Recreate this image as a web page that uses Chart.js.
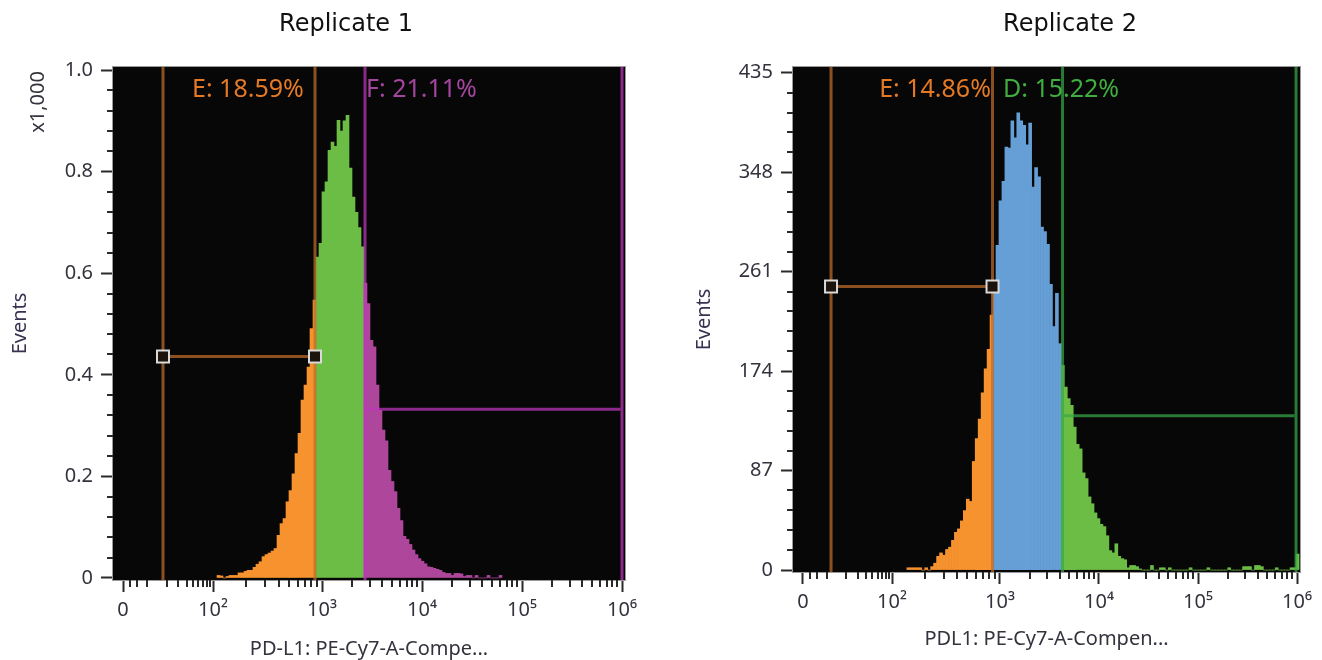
<!DOCTYPE html>
<html lang="en">
<head>
<meta charset="UTF-8">
<title>PD-L1 replicates</title>
<style>
  body { margin: 0; background: #fff; }
  .panel { position: absolute; top: 0; width: 661px; height: 660px; }
</style>
</head>
<body>
<div class="panel" style="left:0"><canvas id="rep1" width="661" height="660" style="width:661px;height:660px"></canvas></div>
<div class="panel" style="left:661px"><canvas id="rep2" width="661" height="660" style="width:661px;height:660px"></canvas></div>

<script src="https://cdn.jsdelivr.net/npm/chart.js@4.4.0/dist/chart.umd.min.js"></script>
<script>
// x axis is in display units of the biexponential scale (bins are uniform in it)
const binWidth = 0.03;
const xTickValues = [0, 100, 1000, 10000, 100000, 1000000];
const xTickLabels = ['0', '10²', '10³', '10⁴', '10⁵', '10⁶'];

// Replicate 1, events per bin, first bin starts at 1.04
const rep1Start = 1.04;
const rep1Counts = [5, 4, 0, 3, 5, 5, 5, 10, 10, 13,
  15, 15, 21, 27, 32, 42, 46, 49, 53, 58,
  84, 107, 117, 150, 172, 205, 245, 285, 350, 380,
  415, 491, 547, 632, 659, 760, 780, 842, 858, 850,
  901, 880, 900, 911, 807, 750, 720, 690, 652, 580,
  540, 468, 455, 380, 330, 291, 270, 212, 190, 170,
  137, 113, 82, 76, 66, 55, 46, 38, 33, 28,
  22, 21, 19, 17, 15, 11, 9, 9, 5, 9,
  9, 8, 3, 5, 5, 0, 5, 0, 0, 0,
  5, 0, 0, 0, 5];
const rep1YTicks = [0, 200, 400, 600, 800, 1000];
const rep1GateNames = ['E', 'F'];
const rep1GatePct = ['18.59%', '21.11%'];
const rep1GateFrom = [0.50, 2.52];
const rep1GateTo = [2.02, 5.09];
const rep1GateLevel = [436, 332];

// Replicate 2, first bin starts at 1.15
const rep2Start = 1.15;
const rep2Counts = [2, 2, 2, 2, 2, 0, 2, 0, 3, 6,
  12, 15, 13, 18, 20, 26, 33, 36, 43, 52,
  62, 60, 95, 115, 132, 155, 176, 193, 223, 250,
  284, 323, 340, 370, 369, 393, 378, 400, 393, 389,
  372, 391, 335, 352, 344, 300, 296, 285, 250, 213,
  242, 198, 179, 160, 150, 144, 125, 110, 106, 85,
  80, 64, 58, 50, 45, 40, 38, 30, 17, 15,
  23, 12, 10, 9, 2, 4, 4, 3, 1, 0,
  0, 0, 4, 0, 0, 2, 2, 0, 2, 0,
  0, 0, 0, 0, 0, 2, 0, 0, 0, 0,
  0, 2, 0, 0, 0, 0, 0, 0, 2, 0,
  0, 0, 0, 3, 3, 3, 0, 4, 4, 3,
  0, 0, 0, 0, 2, 0, 0, 0, 0, 2,
  2, 14];
const rep2YTicks = [0, 87, 174, 261, 348, 435];
const rep2GateNames = ['E', 'D'];
const rep2GatePct = ['14.86%', '15.22%'];
const rep2GateFrom = [0.384, 2.722];
const rep2GateTo = [2.015, 5.08];
const rep2GateLevel = [248, 135];

const gateStyle = {
  E: { fill: '#F7932F', line: 'rgba(190,108,42,0.73)', text: '#E47A26' },
  F: { fill: '#AE479C', line: 'rgba(190,55,190,0.72)', text: '#A4459E' },
  D: { fill: '#6CBD45', line: 'rgba(55,168,72,0.72)', text: '#3FAE3F' }
};

const tickFont = { family: '"Noto Sans", sans-serif', size: 20 };
const ink = '#33333d';

// biexponential-like display transform used by the cytometer axis
function pos(v) {
  if (v >= 1000) return Math.log10(v) - 0.91;
  if (v >= 100) return 1 + 1.09 * (Math.log10(v) - 2);
  if (v >= 10) return 0.34 + 0.66 * (Math.log10(v) - 1);
  return 0.1 + 0.024 * v;
}

const xMinor = [3, 6, 10];
[10, 100, 1000, 10000, 100000].forEach(d => {
  for (let m = 2; m <= 9; m++) xMinor.push(m * d);
});

function makeGates(names, pct, from, to, level) {
  return names.map((n, i) => ({ name: n, pct: pct[i], from: from[i], to: to[i], level: level[i] }));
}

function overlay(p) {
  return {
    id: 'overlay',
    beforeDraw(chart) {
      const { ctx, chartArea: a } = chart;
      ctx.save();
      ctx.fillStyle = '#070707';
      ctx.fillRect(a.left, a.top, a.right - a.left, a.bottom - a.top);
      ctx.restore();
    },
    afterDatasetsDraw(chart) {
      const { ctx, chartArea: a } = chart;
      const xs = chart.scales.x, ys = chart.scales.y;
      ctx.save();
      ctx.beginPath();
      ctx.rect(a.left, a.top, a.right - a.left, a.bottom - a.top);
      ctx.clip();
      p.gates.forEach((g, i) => {
        const st = gateStyle[g.name];
        const x1 = xs.getPixelForValue(g.from), x2 = xs.getPixelForValue(g.to);
        const y = ys.getPixelForValue(g.level);
        ctx.strokeStyle = st.line;
        ctx.lineWidth = 3;
        ctx.beginPath();
        ctx.moveTo(x1, a.top); ctx.lineTo(x1, a.bottom);
        ctx.moveTo(x2, a.top); ctx.lineTo(x2, a.bottom);
        ctx.stroke();
        ctx.beginPath();
        ctx.moveTo(x1 + 1.5, y); ctx.lineTo(x2 - 1.5, y);
        ctx.stroke();
        if (i === 0) {
          [x1, x2].forEach(x => {
            ctx.fillStyle = '#1c130c';
            ctx.fillRect(x - 6, y - 6, 12, 12);
            ctx.strokeStyle = '#d9d9d9';
            ctx.lineWidth = 2;
            ctx.strokeRect(x - 6, y - 6, 12, 12);
          });
        }
        ctx.fillStyle = st.text;
        ctx.font = '25px "Noto Sans", sans-serif';
        ctx.textAlign = 'left';
        ctx.textBaseline = 'alphabetic';
        ctx.fillText(g.name + ': ' + g.pct, xs.getPixelForValue(p.labelAt[i]), a.top + 30);
      });
      ctx.restore();
    },
    afterDraw(chart) {
      const { ctx, chartArea: a } = chart;
      const xs = chart.scales.x, ys = chart.scales.y;
      ctx.save();
      // frame
      ctx.strokeStyle = '#9a9a9a';
      ctx.lineWidth = 1;
      ctx.strokeRect(a.left - 0.5, a.top - 0.5, a.right - a.left + 1, a.bottom - a.top + 1);
      // minor ticks
      ctx.strokeStyle = '#2a2a2a';
      ctx.lineWidth = 2;
      ctx.beginPath();
      xMinor.forEach(v => {
        const px = Math.round(xs.getPixelForValue(pos(v)));
        ctx.moveTo(px, a.bottom); ctx.lineTo(px, a.bottom + 7);
      });
      for (let i = 1; i < 25; i++) {
        if (i % 5 === 0) continue;
        const v = i * p.yMinorStep;
        if (v > ys.max) break;
        const py = Math.round(ys.getPixelForValue(v));
        ctx.moveTo(a.left - 6, py); ctx.lineTo(a.left, py);
      }
      ctx.stroke();
      // texts
      ctx.fillStyle = '#111';
      ctx.font = '24px "DejaVu Sans", sans-serif';
      ctx.textAlign = 'center';
      ctx.textBaseline = 'alphabetic';
      ctx.fillText(p.title, p.titleX, 31);
      ctx.fillStyle = ink;
      ctx.font = '20px "Noto Sans", sans-serif';
      ctx.fillText(p.xTitle, (a.left + a.right) / 2, p.xTitleY);
      ctx.save();
      ctx.translate(a.left - p.yTitleOff, (a.top + a.bottom) / 2);
      ctx.rotate(-Math.PI / 2);
      ctx.fillStyle = '#3a3150';
      ctx.textBaseline = 'middle';
      ctx.fillText('Events', 0, 0);
      ctx.restore();
      if (p.unit) {
        ctx.save();
        ctx.translate(38, 102);
        ctx.rotate(-Math.PI / 2);
        ctx.textBaseline = 'middle';
        ctx.fillText(p.unit, 0, 0);
        ctx.restore();
      }
      ctx.restore();
    }
  };
}

function draw(id, p) {
  const points = p.counts.map((c, i) => ({ x: +(p.start + binWidth * (i + 0.5)).toFixed(4), y: c }));
  const colorFor = x => {
    const g = p.gates.find(g => x >= g.from && x <= g.to + binWidth / 2);
    return g ? gateStyle[g.name].fill : p.baseFill;
  };
  new Chart(document.getElementById(id), {
    type: 'bar',
    data: {
      datasets: [{
        data: points,
        backgroundColor: ctx => colorFor(ctx.raw ? ctx.raw.x : 0),
        borderWidth: 0,
        barPercentage: 1,
        categoryPercentage: 1,
        grouped: false
      }]
    },
    options: {
      responsive: false,
      animation: false,
      events: [],
      layout: { padding: { top: 67, left: 0, right: p.padRight, bottom: 0 } },
      plugins: { legend: { display: false }, tooltip: { enabled: false } },
      scales: {
        x: {
          type: 'linear',
          offset: false,
          min: 0,
          max: 5.12,
          afterBuildTicks: s => { s.ticks = xTickValues.map(v => ({ value: pos(v) })); },
          afterFit: s => { s.height = p.xHeight; s.paddingLeft = 0; s.paddingRight = 0; },
          ticks: {
            autoSkip: false, maxRotation: 0, padding: 6, color: ink, font: tickFont,
            callback: (v, i) => xTickLabels[i]
          },
          grid: { offset: false, drawOnChartArea: false, tickLength: 12, tickWidth: 2, tickColor: '#2a2a2a' },
          border: { display: false }
        },
        y: {
          type: 'linear',
          min: p.yMin,
          max: p.yMax,
          afterBuildTicks: s => { s.ticks = p.yTicks.map(v => ({ value: v })); },
          afterFit: s => { s.width = p.yWidth; s.paddingTop = 0; s.paddingBottom = 0; },
          ticks: { padding: 8, color: ink, font: tickFont, callback: p.yLabel },
          grid: { drawOnChartArea: false, tickLength: 12, tickWidth: 2, tickColor: '#2a2a2a' },
          border: { display: false }
        }
      }
    },
    plugins: [overlay(p)]
  });
}

draw('rep1', {
  start: rep1Start, counts: rep1Counts, baseFill: '#6CBD45',
  gates: makeGates(rep1GateNames, rep1GatePct, rep1GateFrom, rep1GateTo, rep1GateLevel),
  labelAt: [0.79, 2.53],
  yTicks: rep1YTicks, yMin: -4, yMax: 1006, yMinorStep: 40,
  yLabel: v => v === 0 ? '0' : (v / 1000).toFixed(1),
  yWidth: 113, padRight: 36, xHeight: 80,
  title: 'Replicate 1', titleX: 346,
  xTitle: 'PD-L1: PE-Cy7-A-Compe...', xTitleY: 655,
  yTitleOff: 93, unit: 'x1,000'
});

draw('rep2', {
  start: rep2Start, counts: rep2Counts, baseFill: '#659FD5',
  gates: makeGates(rep2GateNames, rep2GatePct, rep2GateFrom, rep2GateTo, rep2GateLevel),
  labelAt: [0.87, 2.12],
  yTicks: rep2YTicks, yMin: -1.7, yMax: 440, yMinorStep: 17.4,
  yLabel: v => String(v),
  yWidth: 132, padRight: 22, xHeight: 88,
  title: 'Replicate 2', titleX: 409,
  xTitle: 'PDL1: PE-Cy7-A-Compen...', xTitleY: 645,
  yTitleOff: 89, unit: null
});
</script>
</body>
</html>
